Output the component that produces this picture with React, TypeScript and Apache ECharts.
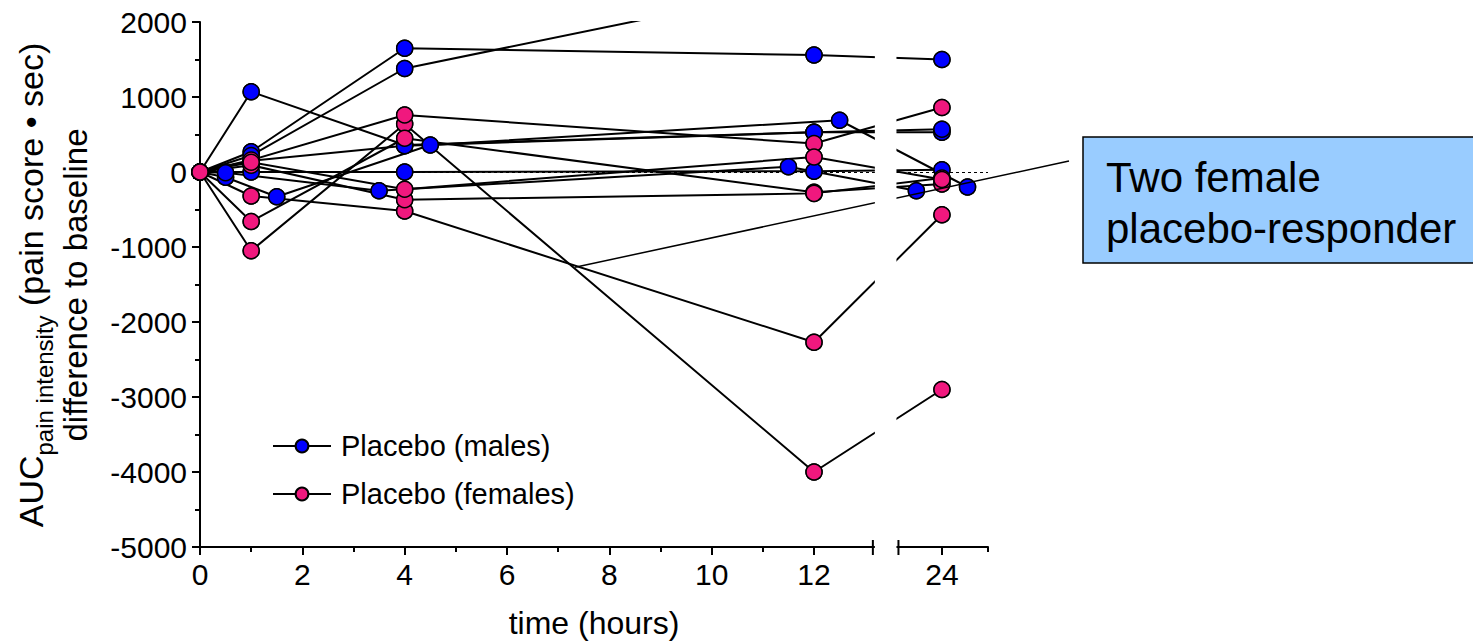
import { useEffect, useRef } from 'react';
import * as echarts from 'echarts';

// ---- data (hours, AUC difference to baseline) ----
const maleA: [number, number][] = [[0, 0], [1, 270], [4, 1650], [12, 1560], [24, 1500]];
const maleB: [number, number][] = [[0, 0], [1, 220], [4, 1380], [12, 2500]];
const maleC: [number, number][] = [[0, 0], [1, 1070], [4, 360], [12, 530], [24, 530]];
const maleD: [number, number][] = [[0, 0], [1, 0], [4, 0], [12, 10], [24, 30]];
const maleE: [number, number][] = [[0, 0], [0.5, -70], [1.5, -330], [4.5, 360], [12.5, 690], [24.5, -200]];
const maleF: [number, number][] = [[0, 0], [0.5, -10], [3.5, -250], [11.5, 70], [23.5, -250]];
const maleG: [number, number][] = [[0, 0], [1, 150], [4, 350], [12, 530], [24, 570]];

const femaleA: [number, number][] = [[0, 0], [1, -1050], [4, 640], [12, -4000], [24, -2900]];
const femaleB: [number, number][] = [[0, 0], [1, -320], [4, -520], [12, -2270], [24, -570]];
const femaleC: [number, number][] = [[0, 0], [1, 160], [4, 760], [12, 380], [24, 860]];
const femaleD: [number, number][] = [[0, 0], [1, -660], [4, 450], [12, -270], [24, -160]];
const femaleE: [number, number][] = [[0, 0], [1, 90], [4, -370], [12, -285], [24, -80]];
const femaleF: [number, number][] = [[0, 0], [1, 130], [4, -230], [12, 200], [24, -100]];

const maleSubjects = [maleA, maleB, maleC, maleD, maleE, maleF, maleG];
const femaleSubjects = [femaleA, femaleB, femaleC, femaleD, femaleE, femaleF];

const xMajorHours = [0, 2, 4, 6, 8, 10, 12, 24];
const xMinorHours = [1, 3, 5, 7, 9, 11, 24.9];
const yMin = -5000;
const yMax = 2000;
const yInterval = 1000;

const legendNames = ['Placebo (males)', 'Placebo (females)'];
const annotationText = ['Two female', 'placebo-responder'];
const annotationTarget: [number, number] = [7.33, -1270];

// ---- axis break (12 .. 24 hours) ----
const BREAK_FROM = 13.15;
const BREAK_TO = 23.15;
const SHIFT = 9.5;
const X_MAX_HOURS = 24.9;
const toAxis = (h: number) => (h > BREAK_FROM ? h - SHIFT : h);
const toHours = (a: number) => (a > BREAK_FROM ? a + SHIFT : a);

const BLUE = '#0000FF';
const PINK = '#F0187E';
const FONT = '"Liberation Sans", Arial, Helvetica, sans-serif';
const TICK_FONT = 30;

function textWidth(text: string, size: number) {
  const c = document.createElement('canvas').getContext('2d');
  if (!c) return text.length * size * 0.55;
  c.font = `${size}px ${FONT}`;
  return c.measureText(text).width;
}

export default function App() {
  const ref = useRef<HTMLDivElement>(null);
  useEffect(() => {
    if (!ref.current) return;
    const chart = echarts.init(ref.current, null, { renderer: 'svg' });

    const lineSeries = (subjects: [number, number][][], name: string, color: string) =>
      subjects.map((s) => ({
        type: 'line',
        name,
        data: s.map(([h, v]) => [toAxis(h), v]),
        symbol: 'circle',
        symbolSize: 16,
        itemStyle: { color, borderColor: '#000', borderWidth: 1.5 },
        lineStyle: { color: '#000', width: 2 },
        clip: true,
        z: 2,
        emphasis: { disabled: true },
      }));
    const pointSeries = (subjects: [number, number][][], name: string, color: string, z: number) => ({
      type: 'scatter',
      name,
      data: subjects.flat().map(([h, v]) => [toAxis(h), v]),
      symbol: 'circle',
      symbolSize: 16,
      itemStyle: { color, borderColor: '#000', borderWidth: 1.5, opacity: 1 },
      clip: true,
      z,
      emphasis: { disabled: true },
    });

    const series: any[] = [
      ...lineSeries(maleSubjects, legendNames[0], BLUE),
      ...lineSeries(femaleSubjects, legendNames[1], PINK),
      pointSeries(maleSubjects, 'malePoints', BLUE, 5),
      pointSeries(femaleSubjects, 'femalePoints', PINK, 6),
    ];
    series[0].markLine = {
      silent: true,
      symbol: ['none', 'none'],
      label: { show: false },
      lineStyle: { type: [3, 3], color: '#000', width: 1 },
      data: [{ yAxis: 0 }],
    };

    const option: any = {
      animation: false,
      grid: { left: 200, top: 22, right: 485, bottom: 95, containLabel: false, outerBoundsMode: 'none' },
      legend: {
        data: legendNames,
        orient: 'vertical',
        left: 272,
        top: 430,
        padding: 0,
        itemWidth: 58,
        itemHeight: 16,
        itemGap: 16,
        textStyle: { fontFamily: FONT, fontSize: 29, color: '#000', lineHeight: 32, padding: [0, 0, 0, 5] },
        selectedMode: false,
      },
      xAxis: [
        {
          type: 'value',
          min: 0,
          max: toAxis(X_MAX_HOURS),
          splitLine: { show: false },
          axisLine: { onZero: false, lineStyle: { color: '#000', width: 2 } },
          axisTick: { length: 8, lineStyle: { color: '#000', width: 2 }, customValues: xMajorHours.map(toAxis) },
          axisLabel: {
            customValues: xMajorHours.map(toAxis),
            formatter: (v: number) => String(Math.round(toHours(v))),
            fontFamily: FONT,
            fontSize: TICK_FONT,
            color: '#000',
            margin: 12,
          },
          name: 'time (hours)',
          nameLocation: 'middle',
          nameGap: 60,
          nameTextStyle: { fontFamily: FONT, fontSize: 32, color: '#000' },
        },
        {
          type: 'value',
          min: 0,
          max: toAxis(X_MAX_HOURS),
          position: 'bottom',
          offset: 0,
          splitLine: { show: false },
          axisLine: { show: false, onZero: false },
          axisLabel: { show: false },
          axisTick: { length: 5, lineStyle: { color: '#000', width: 2 }, customValues: xMinorHours.map(toAxis) },
        },
      ],
      yAxis: {
        type: 'value',
        min: yMin,
        max: yMax,
        interval: yInterval,
        splitLine: { show: false },
        axisLine: { show: true, lineStyle: { color: '#000', width: 2 } },
        axisTick: { show: true, length: 8, lineStyle: { color: '#000', width: 2 } },
        minorTick: { show: true, splitNumber: 2, length: 5, lineStyle: { color: '#000', width: 2 } },
        axisLabel: {
          fontFamily: FONT,
          fontSize: TICK_FONT,
          color: '#000',
          margin: 13,
          formatter: (v: number) => String(v),
        },
      },
      series,
    };
    chart.setOption(option);

    const px = (h: number, v: number) => chart.convertToPixel({ gridIndex: 0 }, [toAxis(h), v]) as number[];
    const gapL = px(BREAK_FROM, 0)[0];
    const gapR = px(BREAK_TO, 0)[0];
    const top = px(0, yMax)[1];
    const bottom = px(0, yMin)[1];
    const target = px(annotationTarget[0], annotationTarget[1]);

    // y-axis title (rotated, with subscript)
    const big = 34;
    const small = 24;
    const p1 = 'AUC';
    const p2 = 'pain intensity';
    const p3 = ' (pain score \u2022 sec)';
    const w1 = textWidth(p1, big);
    const w2 = textWidth(p2, small);
    const w3 = textWidth(p3, big);
    const W = w1 + w2 + w3;
    const l2 = 'difference to baseline';
    const big2 = 33;
    const W2 = textWidth(l2, big2);
    const txt = (text: string, x: number, y: number, size: number) => ({
      type: 'text',
      x,
      y,
      style: { text, font: `${size}px ${FONT}`, fill: '#000', textAlign: 'left', textVerticalAlign: 'bottom' },
    });

    chart.setOption({
      graphic: [
        {
          type: 'group',
          x: 0,
          y: 285,
          rotation: Math.PI / 2,
          children: [
            txt(p1, -W / 2, 48, big),
            txt(p2, -W / 2 + w1, 56, small),
            txt(p3, -W / 2 + w1 + w2, 48, big),
            txt(l2, -W2 / 2, 92, big2),
          ],
        },
        {
          type: 'line',
          shape: { x1: target[0], y1: target[1], x2: 1069, y2: 161 },
          style: { stroke: '#000', lineWidth: 1.5 },
          z: 50,
        },
        {
          type: 'rect',
          shape: { x: gapL + 2, y: top - 6, width: gapR - gapL - 4, height: bottom - top + 8 },
          style: { fill: '#fff', stroke: null },
          z: 60,
        },
        {
          type: 'line',
          shape: { x1: gapL, y1: bottom - 7, x2: gapL, y2: bottom + 8 },
          style: { stroke: '#000', lineWidth: 2 },
          z: 61,
        },
        {
          type: 'line',
          shape: { x1: gapR, y1: bottom - 7, x2: gapR, y2: bottom + 8 },
          style: { stroke: '#000', lineWidth: 2 },
          z: 61,
        },
        {
          type: 'rect',
          shape: { x: 1083, y: 137, width: 420, height: 126 },
          style: { fill: '#99CCFF', stroke: '#000', lineWidth: 1.5 },
          z: 62,
        },
        {
          type: 'text',
          x: 1106,
          y: 198,
          style: {
            text: annotationText[0],
            font: `42px ${FONT}`,
            fill: '#000',
            textAlign: 'left',
            textVerticalAlign: 'bottom',
          },
          z: 63,
        },
        {
          type: 'text',
          x: 1106,
          y: 249,
          style: {
            text: annotationText[1],
            font: `42px ${FONT}`,
            fill: '#000',
            textAlign: 'left',
            textVerticalAlign: 'bottom',
          },
          z: 63,
        },
      ],
    });

    return () => chart.dispose();
  }, []);
  return <div ref={ref} style={{ width: 1473, height: 642, position: 'absolute', left: 0, top: 0 }} />;
}
